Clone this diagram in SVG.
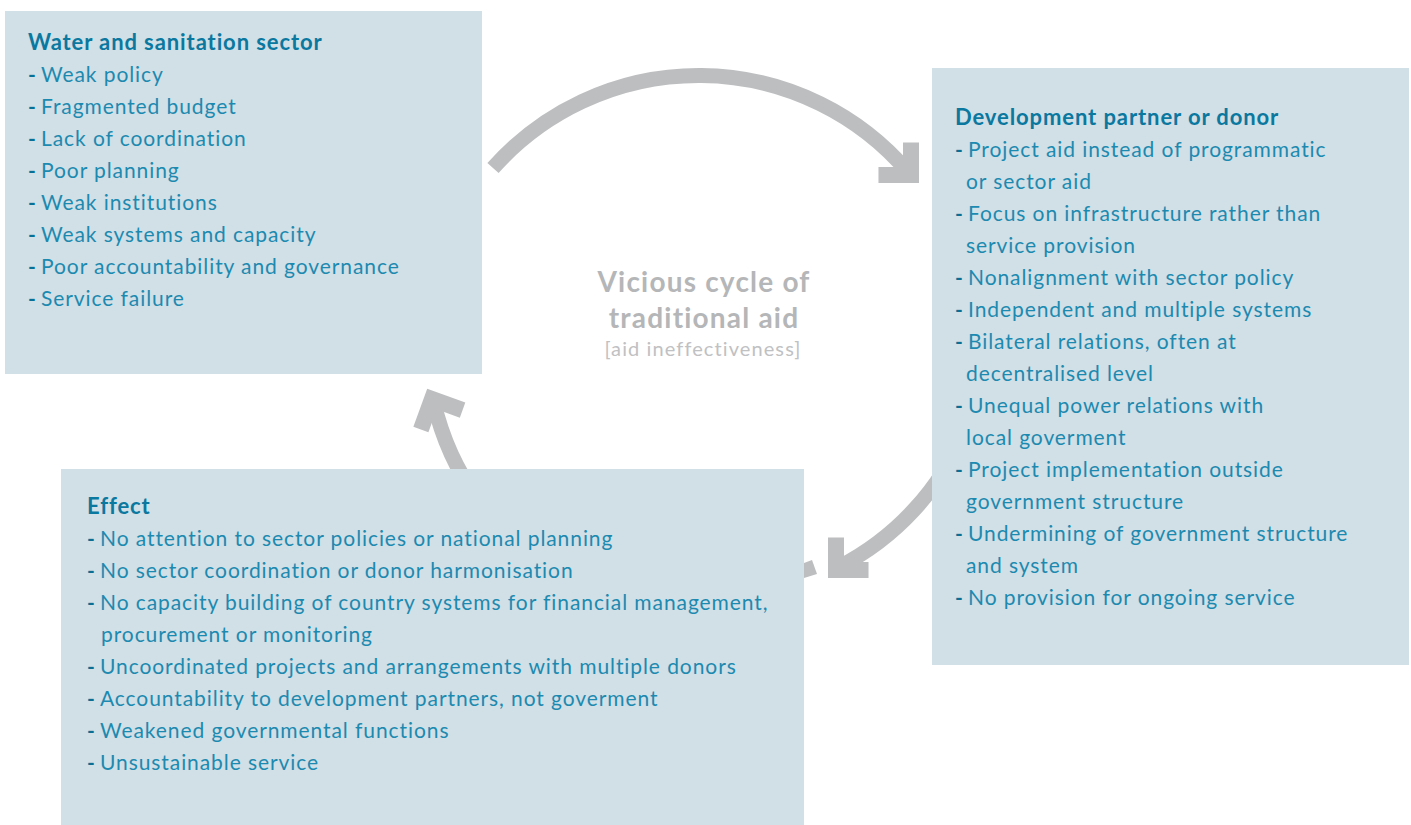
<svg xmlns="http://www.w3.org/2000/svg" width="1411" height="825" viewBox="0 0 1411 825">
<style>
.box{fill:#d1dfe6}
.arc{fill:none;stroke:#bdbec0;stroke-width:15}
.head{fill:none;stroke:#bdbec0;stroke-width:16;stroke-linejoin:miter;stroke-miterlimit:10}
.h{font-family:Lato,"Open Sans",sans-serif;font-weight:700;font-size:22px;letter-spacing:0.9px;fill:#0a789f}
.t{font-family:Lato,"Open Sans",sans-serif;font-size:21px;letter-spacing:0.92px;fill:#1c8ab0}
.d{font-weight:700;fill:#0a6f94}
.c1{font-family:Lato,"Open Sans",sans-serif;font-weight:700;font-size:28px;letter-spacing:1.2px;fill:#b5b6b8;text-anchor:middle}
.c2{font-family:Lato,"Open Sans",sans-serif;font-size:20px;letter-spacing:1.1px;fill:#c0c1c3;text-anchor:middle}
</style>
<defs>
<path id="chev" class="head" d="M-23,-23 L0,0 L-23,23"/>
</defs>
<g id="connectors">
<path class="arc" d="M493,168 A275 275 0 0 1 908,172"/>
<use href="#chev" transform="translate(911,175) rotate(45)"/>
<path class="arc" d="M965,430 A270 270 0 0 1 839,567"/>
<use href="#chev" transform="translate(836,570) rotate(135)"/>
<path class="arc" d="M478,500 A270 270 0 0 1 434,403"/>
<use href="#chev" transform="translate(432,399) rotate(-115)"/>
</g>
<g id="box-water">
<rect class="box" x="5" y="11" width="477" height="363"/>
<text class="h" x="28" y="50">Water and sanitation sector</text>
<text class="t" x="28" y="82"><tspan class="d">-</tspan><tspan x="41">Weak policy</tspan></text>
<text class="t" x="28" y="114"><tspan class="d">-</tspan><tspan x="41">Fragmented budget</tspan></text>
<text class="t" x="28" y="146"><tspan class="d">-</tspan><tspan x="41">Lack of coordination</tspan></text>
<text class="t" x="28" y="178"><tspan class="d">-</tspan><tspan x="41">Poor planning</tspan></text>
<text class="t" x="28" y="210"><tspan class="d">-</tspan><tspan x="41">Weak institutions</tspan></text>
<text class="t" x="28" y="242"><tspan class="d">-</tspan><tspan x="41">Weak systems and capacity</tspan></text>
<text class="t" x="28" y="274"><tspan class="d">-</tspan><tspan x="41">Poor accountability and governance</tspan></text>
<text class="t" x="28" y="306"><tspan class="d">-</tspan><tspan x="41">Service failure</tspan></text>
</g>
<g id="box-donor">
<rect class="box" x="932" y="68" width="477" height="597"/>
<text class="h" x="955" y="125">Development partner or donor</text>
<text class="t" x="955" y="157"><tspan class="d">-</tspan><tspan x="968">Project aid instead of programmatic</tspan></text>
<text class="t" x="966" y="189">or sector aid</text>
<text class="t" x="955" y="221"><tspan class="d">-</tspan><tspan x="968">Focus on infrastructure rather than</tspan></text>
<text class="t" x="966" y="253">service provision</text>
<text class="t" x="955" y="285"><tspan class="d">-</tspan><tspan x="968">Nonalignment with sector policy</tspan></text>
<text class="t" x="955" y="317"><tspan class="d">-</tspan><tspan x="968">Independent and multiple systems</tspan></text>
<text class="t" x="955" y="349"><tspan class="d">-</tspan><tspan x="968">Bilateral relations, often at</tspan></text>
<text class="t" x="966" y="381">decentralised level</text>
<text class="t" x="955" y="413"><tspan class="d">-</tspan><tspan x="968">Unequal power relations with</tspan></text>
<text class="t" x="966" y="445">local goverment</text>
<text class="t" x="955" y="477"><tspan class="d">-</tspan><tspan x="968">Project implementation outside</tspan></text>
<text class="t" x="966" y="509">government structure</text>
<text class="t" x="955" y="541"><tspan class="d">-</tspan><tspan x="968">Undermining of government structure</tspan></text>
<text class="t" x="966" y="573">and system</text>
<text class="t" x="955" y="605"><tspan class="d">-</tspan><tspan x="968">No provision for ongoing service</tspan></text>
</g>
<g id="box-effect">
<rect class="box" x="61" y="469" width="743" height="356"/>
<text class="h" x="87" y="514">Effect</text>
<text class="t" x="87" y="546"><tspan class="d">-</tspan><tspan x="100">No attention to sector policies or national planning</tspan></text>
<text class="t" x="87" y="578"><tspan class="d">-</tspan><tspan x="100">No sector coordination or donor harmonisation</tspan></text>
<text class="t" x="87" y="610"><tspan class="d">-</tspan><tspan x="100">No capacity building of country systems for financial management,</tspan></text>
<text class="t" x="101" y="642">procurement or monitoring</text>
<text class="t" x="87" y="674"><tspan class="d">-</tspan><tspan x="100">Uncoordinated projects and arrangements with multiple donors</tspan></text>
<text class="t" x="87" y="706"><tspan class="d">-</tspan><tspan x="100">Accountability to development partners, not goverment</tspan></text>
<text class="t" x="87" y="738"><tspan class="d">-</tspan><tspan x="100">Weakened governmental functions</tspan></text>
<text class="t" x="87" y="770"><tspan class="d">-</tspan><tspan x="100">Unsustainable service</tspan></text>
</g>
<polygon fill="#bdbec0" points="804,563 812,560 817,574 804,578"/>
<g id="center-label">
<text class="c1" x="704" y="292">Vicious cycle of</text>
<text class="c1" x="704" y="328">traditional aid</text>
<text class="c2" x="703" y="356">[aid ineffectiveness]</text>
</g>
</svg>
